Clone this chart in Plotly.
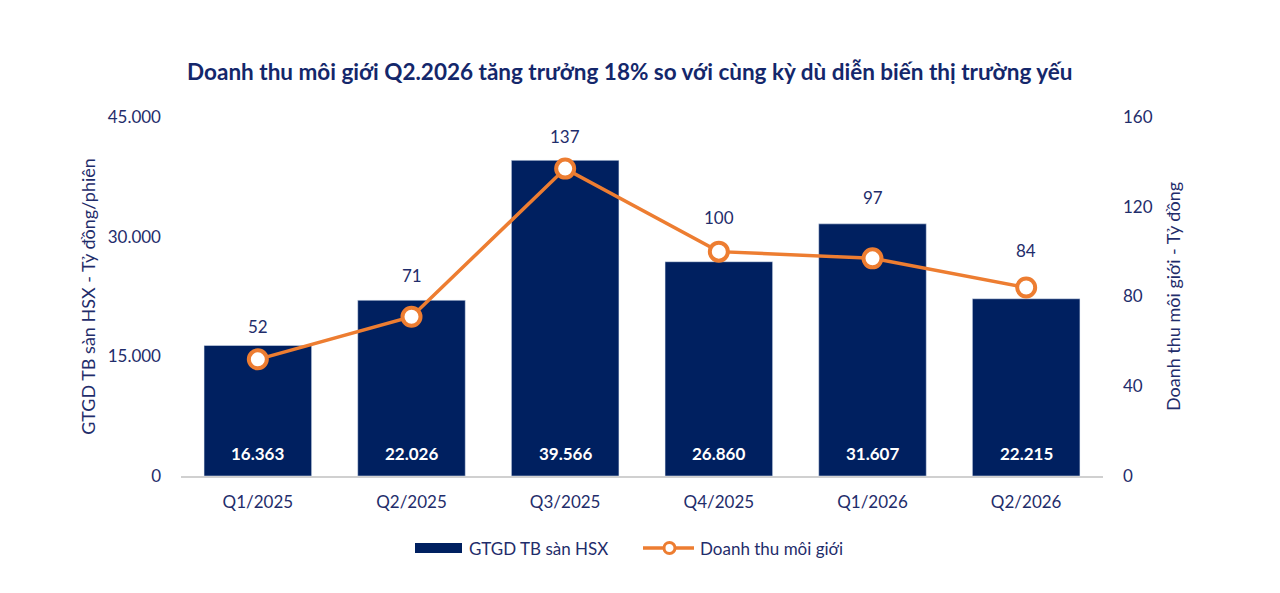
import plotly.graph_objects as go

categories = ["Q1/2025", "Q2/2025", "Q3/2025", "Q4/2025", "Q1/2026", "Q2/2026"]
gtgd = [16363, 22026, 39566, 26860, 31607, 22215]
doanh_thu = [52, 71, 137, 100, 97, 84]
gtgd_labels = ["16.363", "22.026", "39.566", "26.860", "31.607", "22.215"]
left_ticks = [0, 15000, 30000, 45000]
left_tick_text = ["0", "15.000", "30.000", "45.000"]
right_ticks = [0, 40, 80, 120, 160]

# label offsets (pixels above marker), styling only
label_shift = [33, 41, 32, 34, 61, 37]

NAVY = "#002060"
TEXT = "#1F2D6B"
ORANGE = "#ED7D31"
FONT = "Lato"

fig = go.Figure()
fig.add_trace(go.Bar(
    x=categories, y=gtgd, name="GTGD TB sàn HSX",
    marker=dict(color=NAVY), showlegend=False,
))
for c, lbl in zip(categories, gtgd_labels):
    fig.add_annotation(x=c, y=0, yref="y", text=f"<b>{lbl}</b>", showarrow=False,
                       yshift=23, font=dict(color="white", size=17, family=FONT))
fig.add_trace(go.Scatter(
    x=categories, y=doanh_thu, name="Doanh thu môi giới", yaxis="y2",
    mode="lines+markers", showlegend=False,
    line=dict(color=ORANGE, width=3.5),
    marker=dict(size=18, color="white", line=dict(color=ORANGE, width=4)),
    cliponaxis=False,
))
for c, v, s in zip(categories, doanh_thu, label_shift):
    fig.add_annotation(x=c, y=v, yref="y2", text=str(v), showarrow=False,
                       yshift=s, font=dict(color=TEXT, size=17, family=FONT))

# custom legend (paper coordinates)
W, H = 922.0, 359.0
def px(x):
    return (x - 181) / W
def py(y):
    return (476 - y) / H

fig.add_shape(type="rect", xref="paper", yref="paper",
              x0=px(415), x1=px(462), y0=py(553), y1=py(543),
              fillcolor=NAVY, line=dict(width=0))
fig.add_annotation(xref="paper", yref="paper", x=px(467), y=py(548),
                   xanchor="left", yanchor="middle", showarrow=False,
                   text="GTGD TB sàn HSX", font=dict(size=17, color=TEXT, family=FONT))
fig.add_shape(type="line", xref="paper", yref="paper",
              x0=px(643), x1=px(694), y0=py(548), y1=py(548),
              line=dict(color=ORANGE, width=3.5))
fig.add_shape(type="circle", xref="paper", yref="paper",
              x0=px(664), x1=px(675), y0=py(553.5), y1=py(542.5),
              fillcolor="white", line=dict(color=ORANGE, width=3))
fig.add_annotation(xref="paper", yref="paper", x=px(698), y=py(548),
                   xanchor="left", yanchor="middle", showarrow=False,
                   text="Doanh thu môi giới", font=dict(size=17, color=TEXT, family=FONT))

fig.update_layout(
    width=1280, height=593,
    margin=dict(l=181, r=177, t=117, b=117),
    paper_bgcolor="white", plot_bgcolor="white",
    font=dict(family=FONT, color=TEXT, size=16),
    title=dict(text="<b>Doanh thu môi giới Q2.2026 tăng trưởng 18% so với cùng kỳ dù diễn biến thị trường yếu</b>",
               x=0.492, xanchor="center", y=0.878, yanchor="middle",
               font=dict(size=22.5, color="#14276B", family=FONT)),
    bargap=0.3,
    showlegend=False,
    xaxis=dict(showgrid=False, showline=True, linecolor="#D0D0D0", linewidth=1.5,
               ticks="", tickfont=dict(size=17, color=TEXT), ticklabelstandoff=10),
    yaxis=dict(range=[0, 45000], tickvals=left_ticks, ticktext=left_tick_text,
               showgrid=False, zeroline=False, showline=False,
               tickfont=dict(size=17, color=TEXT), ticklabelstandoff=19,
               title=dict(text="GTGD TB sàn HSX - Tỷ đồng/phiên", standoff=7,
                          font=dict(size=18, color=TEXT))),
    yaxis2=dict(range=[0, 160], tickvals=right_ticks, overlaying="y", side="right",
                showgrid=False, zeroline=False, showline=False,
                tickfont=dict(size=17, color=TEXT), ticklabelstandoff=19,
                title=dict(text="Doanh thu môi giới - Tỷ đồng", standoff=15,
                           font=dict(size=18, color=TEXT))),
)

fig.write_html("out.html")
